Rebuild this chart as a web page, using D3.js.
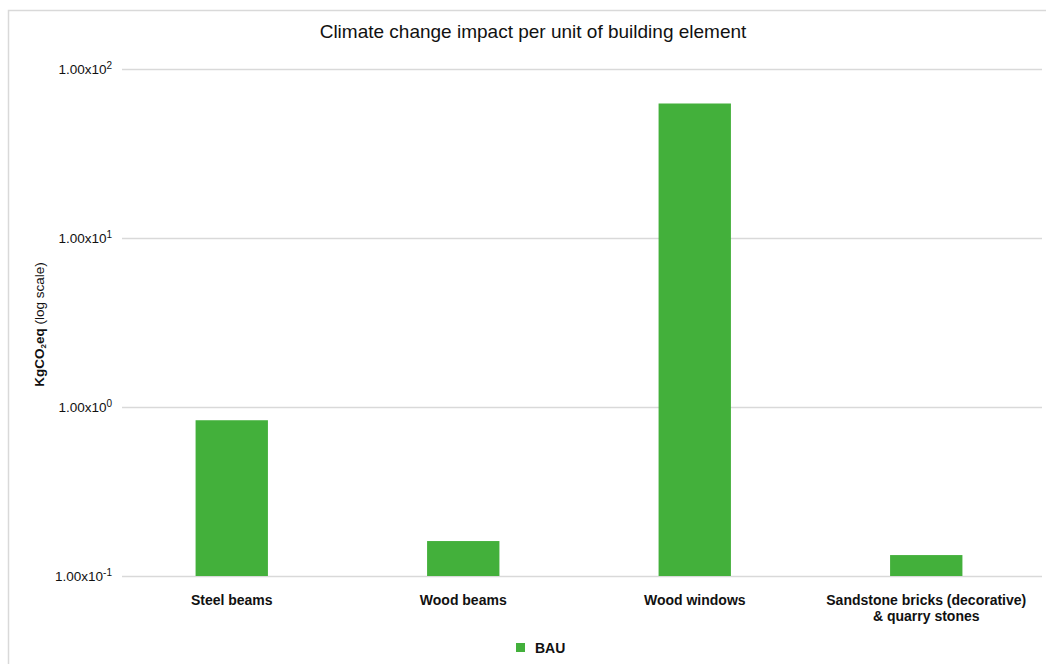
<!DOCTYPE html>
<html lang="en">
<head>
<meta charset="UTF-8">
<script src="https://d3js.org/d3.v7.min.js"></script>
<style>
    body { margin: 0; background: #fff; font-family: "Liberation Sans", Arial, sans-serif; }
</style>
</head>
<body>
<svg id="chart" width="1046" height="664"></svg>
<script>
    // data
    const categories = ["Steel beams", "Wood beams", "Wood windows", "Sandstone bricks (decorative)\n& quarry stones"];
    const bauValues = [0.835, 0.161, 62.5, 0.133];
    const tickValues = [0.1, 1, 10, 100];
    const tickExponents = ["-1", "0", "1", "2"];
    const seriesName = "BAU";

    const green = "#43b03b";
    const svg = d3.select("#chart");

    // outer frame (runs off the right and bottom edge)
    svg.append("rect")
        .attr("x", 8.5).attr("y", 10.5)
        .attr("width", 1200).attr("height", 800)
        .attr("fill", "none")
        .attr("stroke", "#d9d9d9")
        .attr("stroke-width", 1.5);

    const plotLeft = 116, plotRight = 1042, plotTop = 69, plotBottom = 576;

    const x = d3.scaleBand()
        .domain(categories)
        .range([plotLeft, plotRight])
        .paddingInner(0.6875)
        .paddingOuter(0.34375);

    const y = d3.scaleLog()
        .domain([0.1, 100])
        .range([plotBottom, plotTop]);

    svg.append("text")
        .attr("x", 533)
        .attr("y", 38)
        .attr("text-anchor", "middle")
        .style("font-size", "19px")
        .style("fill", "#111")
        .text("Climate change impact per unit of building element");

    // grid + tick labels
    const yAxis = svg.append("g")
        .attr("transform", `translate(${plotLeft},0)`)
        .call(d3.axisLeft(y).tickValues(tickValues).tickFormat(""));
    yAxis.select(".domain").remove();
    yAxis.selectAll(".tick line")
        .attr("x1", 6)
        .attr("x2", plotRight - plotLeft)
        .attr("stroke", "#d9d9d9")
        .attr("stroke-width", 1.5);

    const labels = yAxis.selectAll(".tick").append("text")
        .attr("x", -4)
        .attr("dy", "0.35em")
        .attr("text-anchor", "end")
        .style("font-size", "13.5px")
        .style("fill", "#111");
    labels.append("tspan").text("1.00x10");
    labels.append("tspan")
        .attr("dy", "-0.55em")
        .style("font-size", "10px")
        .text((d, i) => tickExponents[i]);

    svg.append("text")
        .attr("transform", `translate(44,${(plotTop + plotBottom) / 2 + 2}) rotate(-90)`)
        .attr("text-anchor", "middle")
        .style("font-size", "13.5px")
        .style("font-weight", "bold")
        .style("fill", "#111")
        .call(t => {
            t.append("tspan").text("KgCO");
            t.append("tspan").style("font-size", "8px").attr("dy", "2").text("2");
            t.append("tspan").attr("dy", "-2").text("eq ");
            t.append("tspan").style("font-weight", "normal").text("(log scale)");
        });

    // bars
    svg.selectAll(".bar")
        .data(bauValues)
        .enter().append("rect")
        .attr("class", "bar")
        .attr("x", (d, i) => x(categories[i]))
        .attr("y", d => y(d))
        .attr("width", x.bandwidth())
        .attr("height", d => y(0.1) - y(d))
        .attr("fill", green);

    // category labels
    const xAxis = svg.append("g")
        .attr("transform", `translate(0,${plotBottom})`)
        .call(d3.axisBottom(x).tickSize(0).tickFormat(""));
    xAxis.select(".domain").remove();
    xAxis.selectAll(".tick").append("text")
        .attr("text-anchor", "middle")
        .style("font-size", "14px")
        .style("font-weight", "bold")
        .style("fill", "#111")
        .each(function(d) {
            d3.select(this).selectAll("tspan")
                .data(d.split("\n"))
                .enter().append("tspan")
                .attr("x", 0)
                .attr("y", (s, j) => 29 + j * 16)
                .text(s => s);
        });

    // legend
    const legend = svg.append("g").attr("transform", "translate(516,643)");
    legend.append("rect").attr("width", 9).attr("height", 9).attr("fill", green);
    legend.append("text")
        .attr("x", 19).attr("y", 10)
        .style("font-size", "14px")
        .style("font-weight", "bold")
        .style("fill", "#111")
        .text(seriesName);
</script>
</body>
</html>
